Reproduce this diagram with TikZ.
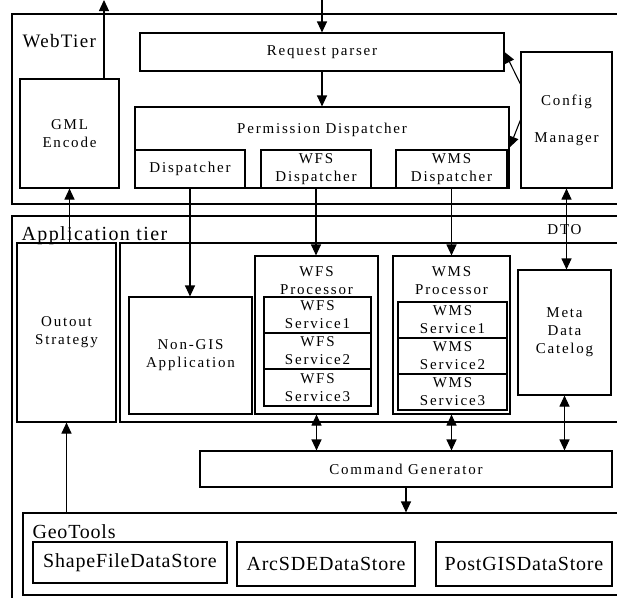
\documentclass[tikz,border=0pt]{standalone}
\usepackage{fontspec}
\usepackage{tikz}
\usetikzlibrary{arrows.meta}
\setmainfont{Liberation Serif}
\newfontfamily\boxfont{Liberation Serif}[LetterSpace=12]
\newfontfamily\tierfont{Liberation Serif}[LetterSpace=7]
\newfontfamily\storefont{Liberation Serif}[LetterSpace=4]

\begin{document}
\begin{tikzpicture}[x=1pt, y=-1pt, line width=1.1pt, >={Triangle[length=11pt,width=10pt]},
  box/.style={rectangle, draw, inner sep=0pt, align=center, font=\boxfont\fontsize{15}{18}\selectfont},
  title/.style={inner sep=0pt, align=center, font=\boxfont\fontsize{15}{18}\selectfont},
  tier/.style={inner sep=0pt, anchor=base west, font=\tierfont\fontsize{20}{22}\selectfont},
  store/.style={box, font=\storefont\fontsize{20}{22}\selectfont}]

  \useasboundingbox (0,0) rectangle (617,597);

  \node[box, minimum width=610, minimum height=190] (webtier) at (317,109) {};
  \node[tier, font=\tierfont\fontsize{19}{20}\selectfont] (webtxt) at (22,47) {WebTier};
  \node[box, minimum width=364, minimum height=38] (request) at (322,52) {Request\ parser};
  \node[box, minimum width=374, minimum height=81] (perm) at (322,147.5) {};
  \node[title, anchor=base] (permtxt) at (322,133) {Permission\ Dispatcher};
  \node[box, minimum width=110, minimum height=38] (disp) at (190,169) {Dispatcher};
  \node[box, minimum width=110, minimum height=38] (wfsd) at (316,169) {WFS\\Dispatcher};
  \node[box, minimum width=111, minimum height=38] (wmsd) at (451.5,169) {WMS\\Dispatcher};
  \node[box, minimum width=99, minimum height=109] (gml) at (69.5,133.5) {GML\\Encode};
  \node[box, minimum width=91, minimum height=136] (config) at (566.5,120) {Config\\[19pt]Manager};

  \node[box, minimum width=610, minimum height=386] (apptier) at (317,409) {};
  \node[tier] (apptxt) at (21,240.5) {Application tier};
  \node[title, anchor=base] (dto) at (564.5,234) {DTO};
  \node[box, minimum width=99, minimum height=179] (outout) at (66.5,332.5) {Outout\\Strategy};
  \node[box, minimum width=502, minimum height=179] (apps) at (371,332.5) {};
  \node[box, minimum width=123, minimum height=117] (nongis) at (190.5,355.5) {Non-GIS\\Application};

  \node[box, minimum width=123, minimum height=158] (wfsp) at (316.5,335) {};
  \node[title] (wfsptxt) at (316.5,281) {WFS\\Processor};
  \node[box, minimum width=107, minimum height=36] (wfss1) at (317.5,315) {WFS\\Service1};
  \node[box, minimum width=107, minimum height=36] (wfss2) at (317.5,351) {WFS\\Service2};
  \node[box, minimum width=107, minimum height=37] (wfss3) at (317.5,387.5) {WFS\\Service3};

  \node[box, minimum width=117, minimum height=158] (wmsp) at (451.5,335) {};
  \node[title] (wmsptxt) at (451.5,281) {WMS\\Processor};
  \node[box, minimum width=109, minimum height=36] (wmss1) at (452.5,320) {WMS\\Service1};
  \node[box, minimum width=109, minimum height=36] (wmss2) at (452.5,356) {WMS\\Service2};
  \node[box, minimum width=109, minimum height=36] (wmss3) at (452.5,392) {WMS\\Service3};

  \node[box, minimum width=93, minimum height=125] (meta) at (564.5,332.5) {Meta\\Data\\Catelog};
  \node[box, minimum width=412, minimum height=36] (cmd) at (406,469) {Command\ Generator};

  \node[box, minimum width=599, minimum height=82] (geo) at (322.5,554) {};
  \node[tier, font=\storefont\fontsize{20}{22}\selectfont] (geotxt) at (32,538) {GeoTools};
  \node[store, minimum width=194, minimum height=41] (shape) at (130,562.5) {ShapeFileDataStore};
  \node[store, minimum width=178, minimum height=44] (arcsde) at (326,564) {ArcSDEDataStore};
  \node[store, minimum width=176, minimum height=44] (postgis) at (524,564) {PostGISDataStore};

  \coordinate (gmlout) at (104,0);
  \coordinate (reqin) at (322,0);

  \path[->]
  (gml.north -| gmlout) edge (gmlout)
  (reqin) edge (request.north)
  (request) edge (perm)
  (config.142) edge (request.east)
  (config.west) edge (perm.east)
  (disp.south) edge (disp.south |- nongis.north)
  (wfsd.south) edge (wfsd.south |- wfsp.north)
  (wmsd.south) edge (wmsd.south |- wmsp.north)
  (outout.north -| gml.south) edge (gml.south)
  (outout.south |- geo.north) edge (outout.south)
  (cmd.south) edge (cmd.south |- geo.north);

  \path[<->]
  (config.south) edge (config.south |- meta.north)
  (wfsp.south) edge (wfsp.south |- cmd.north)
  (wmsp.south) edge (wmsp.south |- cmd.north)
  (meta.south) edge (meta.south |- cmd.north);

\end{tikzpicture}
\end{document}
